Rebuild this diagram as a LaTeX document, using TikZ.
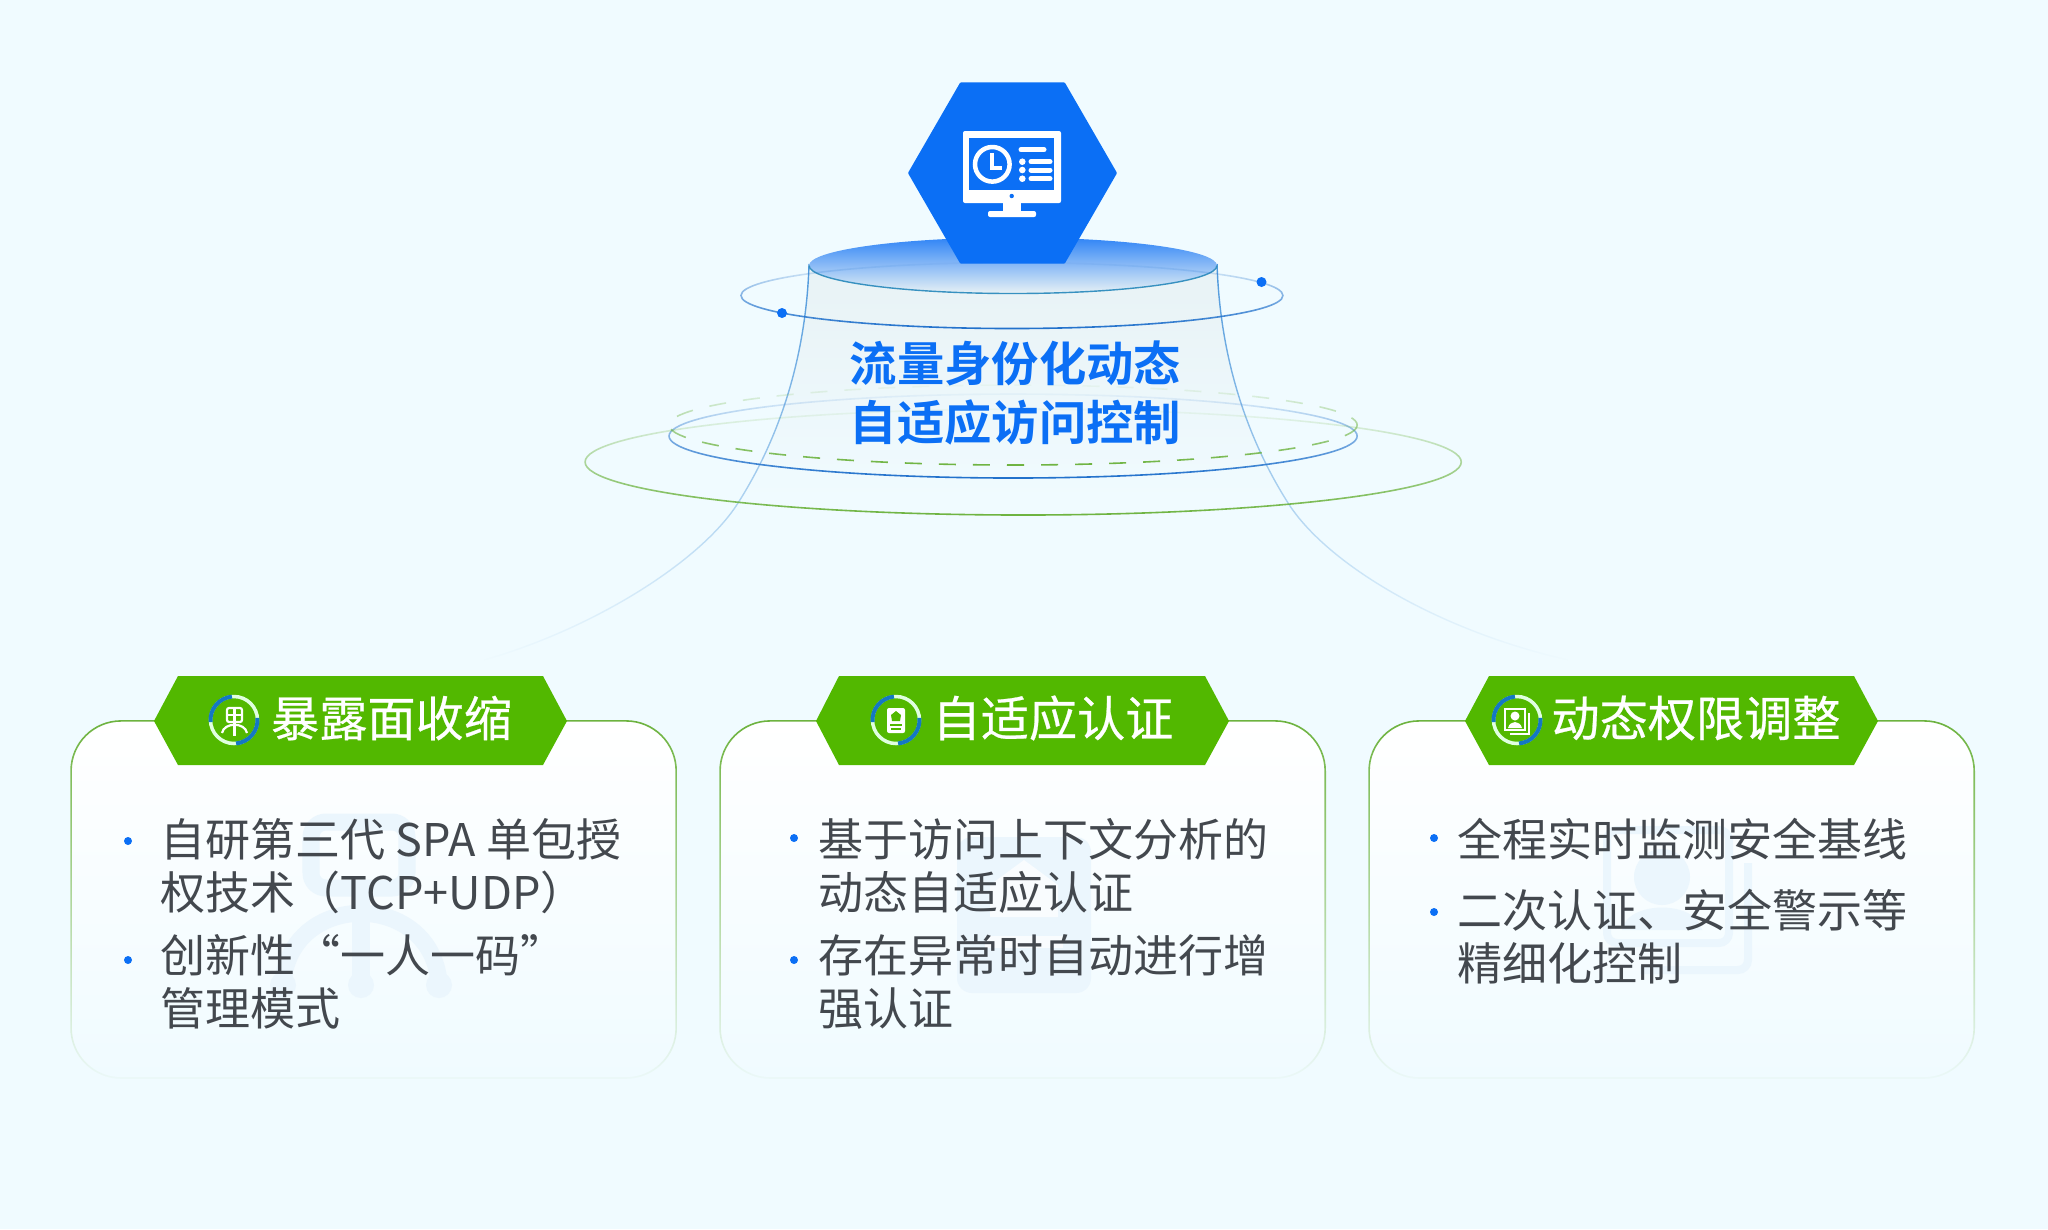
\documentclass[tikz,border=0pt]{standalone}
\usepackage{xcolor}
\usepackage{fontspec}
\setmainfont{Noto Sans CJK SC}[BoldFont=* Bold]
\newfontfamily\headfont{Noto Sans CJK SC}[FakeBold=0.5]
\usepackage{tikz}
\usetikzlibrary{fadings}
\usetikzlibrary{shapes.geometric}
\definecolor{pagebg}{HTML}{F0FBFF}
\definecolor{mainblue}{HTML}{0B6FF5}
\definecolor{ringblue}{HTML}{1E6FCB}
\definecolor{sideblue}{HTML}{4E98DC}
\definecolor{cardgreen}{HTML}{52B800}
\definecolor{linegreen}{HTML}{6DB33F}
\definecolor{txtgray}{HTML}{43484E}
\definecolor{markblue}{HTML}{EBF6FD}
\definecolor{arcblue}{HTML}{1478C4}
\definecolor{bodytop}{HTML}{E8F2F5}
\definecolor{bodymid}{HTML}{FAFEFF}
\tikzfading[name=ringfade, top color=transparent!96, middle color=transparent!50, bottom color=transparent!0]
\tikzfading[name=sidefade, top color=transparent!0, middle color=transparent!15, bottom color=transparent!100]
\tikzfading[name=cardfade, top color=transparent!0, middle color=transparent!55, bottom color=transparent!97]
\tikzset{
    hexnode/.style = {regular polygon, regular polygon sides=6, fill=mainblue, inner sep=0pt, minimum size=2.09cm, rounded corners=0.008cm},
    titletext/.style = {align=center, inner sep=0pt, text=mainblue, font=\fontsize{13.45}{16.9}\selectfont\bfseries},
    headtext/.style = {inner sep=0pt, text=white, font=\headfont\fontsize{13.7}{16}\selectfont},
    bodytext/.style = {anchor=west, align=left, inner sep=0pt, text=txtgray, font=\fontsize{12.8}{15.1}\selectfont},
    cardbox/.style = {top color=white, bottom color=pagebg, rounded corners=0.5cm},
    cardline/.style = {draw=linegreen, line width=0.016cm, rounded corners=0.5cm, path fading=cardfade},
    orbit/.style = {line width=0.016cm, path fading=ringfade},
    sideline/.style = {draw=sideblue, line width=0.014cm, path fading=sidefade},
    bannerbox/.style = {fill=cardgreen},
    wmark/.style = {draw=markblue, line width=0.17cm, line cap=round, line join=round},
    iconline/.style = {draw=white, line width=0.022cm},
    monitor/.style = {fill=white, rounded corners=0.02cm}
}
\begin{document}
\begin{tikzpicture}[x=0.01cm,y=-0.01cm]
    \useasboundingbox (0,0) rectangle (2048,1229);
    \fill[pagebg] (0,0) rectangle (2048,1229);

    % body under the disc
    \shade[top color=bodytop, middle color=bodymid, bottom color=pagebg]
        (809,264) .. controls (806,360) and (778,440) .. (738,503)
        -- (1288,503) .. controls (1248,440) and (1220,360) .. (1217,264) -- cycle;
    \draw[sideline] (809,264) .. controls (806,360) and (778,440) .. (738,503)
        .. controls (700,563) and (590,630) .. (484,660);
    \draw[sideline] (1217,264) .. controls (1220,360) and (1248,440) .. (1288,503)
        .. controls (1326,563) and (1436,630) .. (1568,660);

    % disc
    \shade[top color=mainblue!85!white, middle color=mainblue!32!white, bottom color=bodytop]
        (1013,265.5) ellipse [x radius=204, y radius=28];
    \draw[draw=sideblue!70!teal, line width=0.014cm] (809,265.5) arc [start angle=180, end angle=0, x radius=204, y radius=28];

    % rings
    \draw[orbit, draw=ringblue] (1012,295.5) ellipse [x radius=271, y radius=33];
    \draw[orbit, draw=ringblue] (1013,436) ellipse [x radius=344, y radius=42];
    \draw[orbit, draw=linegreen, dash pattern=on 0.17cm off 0.17cm] (1013,425) ellipse [x radius=344, y radius=40];
    \draw[orbit, draw=linegreen] (1023,462) ellipse [x radius=438, y radius=53];
    \fill[mainblue] (782,313) circle [radius=5];
    \fill[mainblue] (1261.5,282) circle [radius=5];

    \node[hexnode] (hex) at (1012.5,173) {};
    % monitor icon
    \fill[monitor] (963,131) rectangle (1061,203);
    \fill[mainblue] (969,138) rectangle (1054,190);
    \fill[mainblue] (1011.7,196) circle [radius=2.2];
    \fill[white] (1003,203) rectangle (1021,211);
    \fill[monitor] (988,211) rectangle (1036,217);
    \draw[white, line width=0.045cm] (992.3,164.3) circle [radius=17.3];
    \draw[white, line width=0.04cm] (992.3,153) -- (992.3,167.7) -- (1002,167.7);
    \draw[white, line width=0.05cm, line cap=round] (1021,149.7) -- (1044,149.7);
    \foreach \y in {161.7,170,178.7} {
        \fill[white] (1022.3,\y) circle [radius=3.3];
        \draw[white, line width=0.05cm, line cap=round] (1031,\y) -- (1050,\y);
    }

    \node[titletext] (title) at (1015.5,393) {流量身份化动态\\自适应访问控制};

    % cards
    \foreach \x in {71,720,1369} {
        \shade[cardbox] (\x,721) rectangle ++(605,357);
        \draw[cardline] (\x,721) rectangle ++(605,357);
    }

    % watermarks
    \draw[wmark, rounded corners=0.15cm] (311,822) rectangle (407,888);
    \draw[wmark] (361,888) -- (361,983);
    \draw[wmark] (283,983) .. controls (290,890) and (432,890) .. (439,983);
    \fill[markblue] (283,985) circle [radius=13] (361,985) circle [radius=13] (439,985) circle [radius=13];
    \fill[markblue, rounded corners=0.15cm] (957,837) rectangle (1091,993);
    \fill[white!70!markblue] (1024,860) -- (1058,885) -- (1058,917) -- (990,917) -- (990,885) -- cycle;
    \fill[white!70!markblue] (985,936) rectangle (1063,948);
    \draw[markblue, line width=0.08cm, rounded corners=0.1cm] (1607,830) rectangle (1729,943);
    \draw[markblue, line width=0.08cm, rounded corners=0.1cm] (1748,863) -- (1748,970) -- (1640,970);
    \fill[markblue] (1662,877) circle [radius=28];
    \fill[markblue] (1622,930) .. controls (1627,900) and (1697,900) .. (1702,930) -- cycle;

    % banners
    \fill[bannerbox] (154,721) -- (178,676) -- (543,676) -- (567,721) -- (543,765) -- (178,765) -- cycle;
    \fill[bannerbox] (816,721) -- (839,676) -- (1205,676) -- (1229,721) -- (1205,765) -- (839,765) -- cycle;
    \fill[bannerbox] (1465,721) -- (1489,676) -- (1854,676) -- (1878,721) -- (1854,765) -- (1489,765) -- cycle;
    \foreach \x in {234,896,1517} {
        \draw[white!88!green, line width=0.035cm] (\x,720) circle [radius=23.5];
        \draw[arcblue, line width=0.04cm] (\x,720) ++(-95:23.5) arc [start angle=-95, end angle=-185, radius=23.5];
        \draw[arcblue, line width=0.04cm] (\x,720) ++(85:23.5) arc [start angle=85, end angle=-5, radius=23.5];
    }
    % banner icons
    \draw[iconline, rounded corners=0.02cm] (227,708) rectangle (242,722);
    \draw[iconline] (234.5,708) -- (234.5,736) (227,715) -- (242,715);
    \draw[iconline] (222,733) .. controls (224,722) and (245,722) .. (247,733);
    \fill[white, rounded corners=0.02cm] (887,708) rectangle (905,733);
    \fill[cardgreen] (896,711) -- (901,715) -- (900,721) -- (892,721) -- (891,715) -- cycle;
    \draw[cardgreen, line width=0.012cm] (890,725) -- (902,725) (891,729) -- (901,729);
    \draw[iconline, line width=0.016cm] (1505,709) rectangle (1525,730);
    \draw[iconline, line width=0.016cm] (1529,713) -- (1529,734) -- (1510,734);
    \fill[white] (1515,716) circle [radius=4.5];
    \fill[white] (1508,728) .. controls (1510,720) and (1520,720) .. (1522,728) -- cycle;

    \node[headtext] (head1) at (391.5,718) {暴露面收缩};
    \node[headtext] (head2) at (1053,718) {自适应认证};
    \node[headtext] (head3) at (1696,718) {动态权限调整};

    \foreach \x/\y in {128/841,128/960,794/838,794/960,1434/838,1434/912} {
        \fill[mainblue] (\x,\y) circle [radius=4];
    }

    \node[bodytext] (text1a) at (160,866) {自研第三代 SPA 单包授\\权技术（TCP+UDP）};
    \node[bodytext] (text1b) at (160,982) {创新性“一人一码”\\管理模式};
    \node[bodytext] (text2a) at (817.5,866) {基于访问上下文分析的\\动态自适应认证};
    \node[bodytext] (text2b) at (817.5,982) {存在异常时自动进行增\\强认证};
    \node[bodytext] (text3a) at (1457,839) {全程实时监测安全基线};
    \node[bodytext] (text3b) at (1457,937) {二次认证、安全警示等\\精细化控制};
\end{tikzpicture}
\end{document}
